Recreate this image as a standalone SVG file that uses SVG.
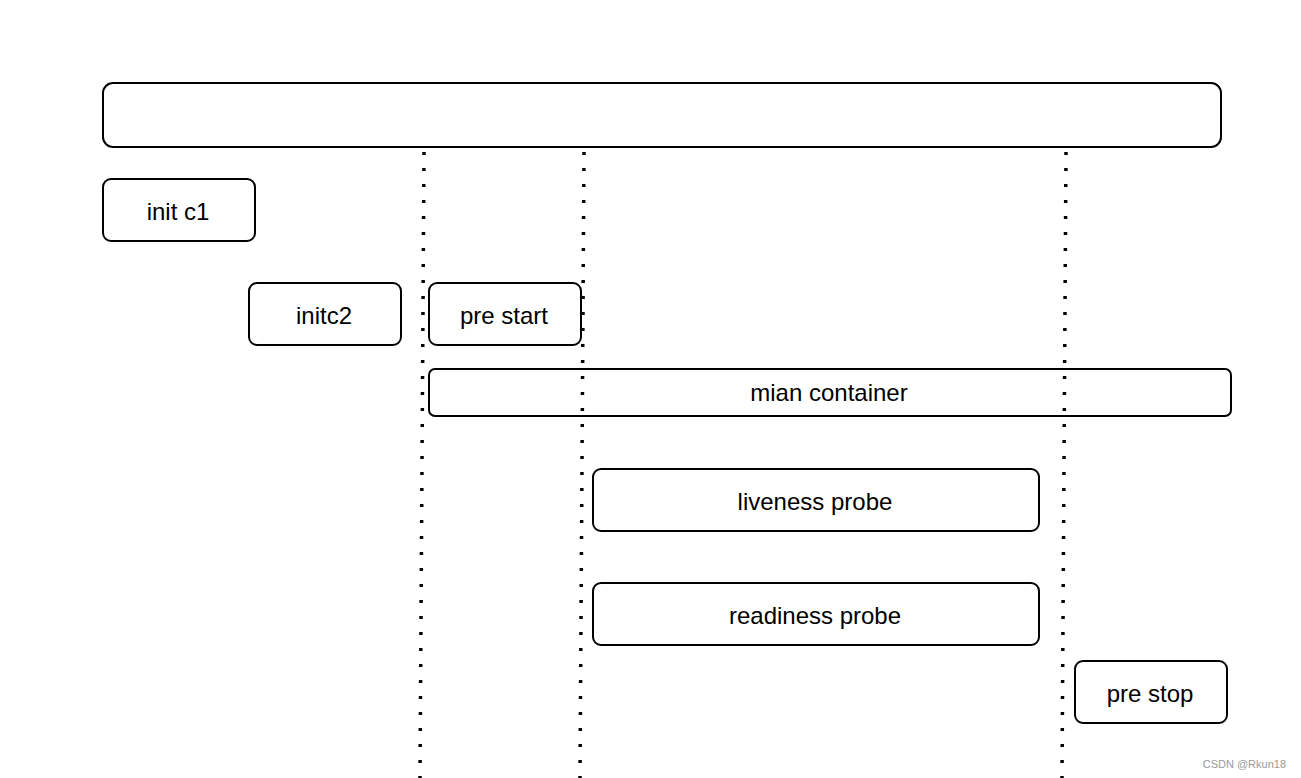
<svg xmlns="http://www.w3.org/2000/svg" width="1301" height="778" viewBox="0 0 1301 778">
<style>
.box{fill:#fff;stroke:#000;stroke-width:2}
.lbl{font-family:"Liberation Sans",Arial,sans-serif;font-size:24px;fill:#000;text-anchor:middle;dominant-baseline:central}
.dot{stroke:#000;stroke-width:3.5;stroke-dasharray:3 13;fill:none}
</style>
<rect width="1301" height="778" fill="#fff"/>
<g id="connectors">
<line class="dot" x1="424" y1="152" x2="420" y2="778"/>
<line class="dot" x1="584" y1="152" x2="580" y2="778"/>
<line class="dot" x1="1066" y1="152" x2="1062" y2="778"/>
</g>
<g id="pod"><rect class="box" x="103" y="83" width="1118" height="64" rx="10"/></g>
<g id="initc1"><rect class="box" x="103" y="179" width="152" height="62" rx="8"/><text class="lbl" x="178" y="211">init c1</text></g>
<g id="initc2"><rect class="box" x="249" y="283" width="152" height="62" rx="8"/><text class="lbl" x="324" y="315">initc2</text></g>
<g id="prestart"><rect class="box" x="429" y="283" width="152" height="62" rx="8" fill-opacity="0"/><text class="lbl" x="504" y="315">pre start</text></g>
<g id="main"><rect class="box" x="429" y="369" width="802" height="47" rx="6" fill-opacity="0"/><text class="lbl" x="829" y="392">mian container</text></g>
<g id="liveness"><rect class="box" x="593" y="469" width="446" height="62" rx="8"/><text class="lbl" x="815" y="501">liveness probe</text></g>
<g id="readiness"><rect class="box" x="593" y="583" width="446" height="62" rx="8"/><text class="lbl" x="815" y="615">readiness probe</text></g>
<g id="prestop"><rect class="box" x="1075" y="661" width="152" height="62" rx="8"/><text class="lbl" x="1150" y="693">pre stop</text></g>
<text x="1286" y="768" font-family="Liberation Sans,Arial,sans-serif" font-size="11" fill="#999" text-anchor="end">CSDN @Rkun18</text>
</svg>
